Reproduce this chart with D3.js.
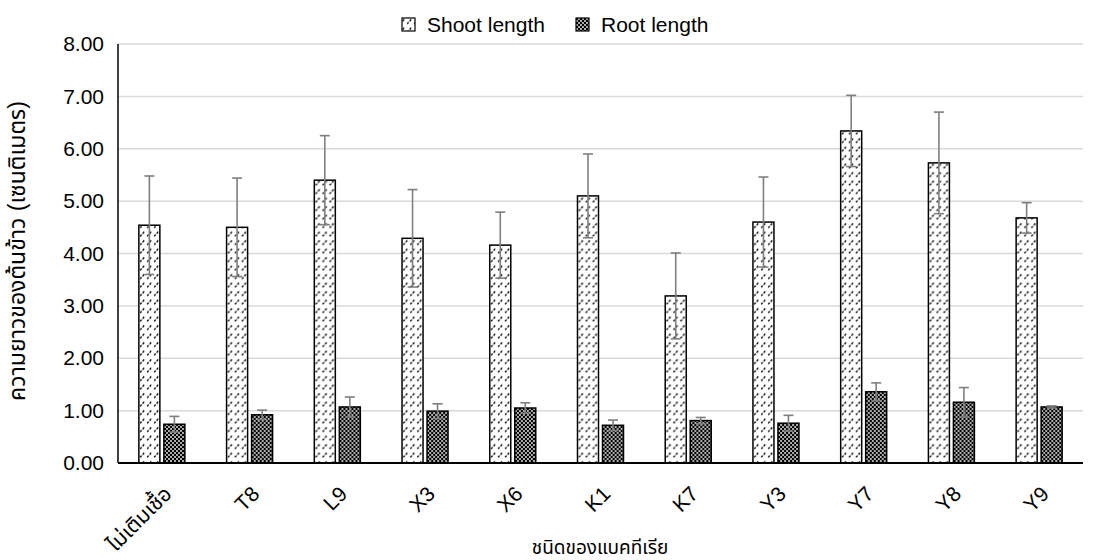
<!DOCTYPE html>
<html>
<head>
<meta charset="utf-8">
<script src="https://cdn.jsdelivr.net/npm/d3@7"></script>
<style>
  html, body { margin: 0; padding: 0; background: #fff; }
  svg { display: block; }
  text { font-family: "Liberation Sans", Arial, "Noto Sans Thai", "Noto Sans", sans-serif; fill: #000; font-weight: normal; }
</style>
</head>
<body>
<svg id="chart" width="1093" height="560"></svg>
<script>
const categories = ["ไม่เติมเชื้อ", "T8", "L9", "X3", "X6", "K1", "K7", "Y3", "Y7", "Y8", "Y9"];
const seriesNames = ["Shoot length", "Root length"];
const shootValues = [4.54, 4.50, 5.40, 4.29, 4.16, 5.10, 3.19, 4.60, 6.34, 5.73, 4.68];
const shootErrors = [0.94, 0.94, 0.85, 0.93, 0.63, 0.80, 0.82, 0.86, 0.68, 0.97, 0.29];
const rootValues = [0.74, 0.92, 1.07, 0.99, 1.05, 0.72, 0.81, 0.76, 1.36, 1.16, 1.07];
const rootErrors = [0.15, 0.09, 0.19, 0.14, 0.10, 0.10, 0.06, 0.15, 0.17, 0.28, 0.02];
const yTickValues = [0, 1, 2, 3, 4, 5, 6, 7, 8];
const xAxisTitle = "ชนิดของแบคทีเรีย";
const yAxisTitle = "ความยาวของต้นข้าว (เซนติเมตร)";

const svg = d3.select("#chart");
const plot = { left: 118, right: 1083, top: 44, bottom: 463 };
const FONT = '"Liberation Sans", Arial, "Noto Sans Thai", "Noto Sans", sans-serif';

// patterns
const defs = svg.append("defs");
const pShoot = defs.append("pattern").attr("id", "pShoot")
  .attr("patternUnits", "userSpaceOnUse").attr("width", 7).attr("height", 8.5);
pShoot.append("rect").attr("width", 7).attr("height", 8.5).attr("fill", "#fff");
pShoot.append("line").attr("x1", 1.2).attr("y1", 6.8).attr("x2", 2.6).attr("y2", 5.2)
  .attr("stroke", "#000").attr("stroke-width", 1.3);
pShoot.append("line").attr("x1", 3.6).attr("y1", 4.2).attr("x2", 5.2).attr("y2", 2.4)
  .attr("stroke", "#000").attr("stroke-width", 1.3);

const pRoot = defs.append("pattern").attr("id", "pRoot")
  .attr("patternUnits", "userSpaceOnUse").attr("width", 4).attr("height", 4);
pRoot.append("rect").attr("width", 4).attr("height", 4).attr("fill", "#000");
pRoot.append("circle").attr("cx", 1).attr("cy", 1).attr("r", 0.9).attr("fill", "#fff");
pRoot.append("circle").attr("cx", 3).attr("cy", 3).attr("r", 0.9).attr("fill", "#fff");

const fills = ["url(#pShoot)", "url(#pRoot)"];

const x0 = d3.scaleBand().domain(categories).range([plot.left, plot.right]).padding(0);
const bw0 = x0.bandwidth();
const x1 = d3.scaleBand().domain(seriesNames)
  .range([bw0 / 2 - 23, bw0 / 2 + 23]).paddingInner(0.16).paddingOuter(0);
const y = d3.scaleLinear().domain([0, 8]).range([plot.bottom, plot.top]);

// gridlines
svg.append("g").selectAll("line").data(yTickValues.filter(d => d > 0)).join("line")
  .attr("x1", plot.left).attr("x2", plot.right)
  .attr("y1", d => y(d)).attr("y2", d => y(d))
  .attr("stroke", "#d9d9d9").attr("stroke-width", 1.5);

// y axis labels
const yAxis = d3.axisLeft(y).tickValues(yTickValues).tickFormat(d3.format(".2f")).tickSize(0).tickPadding(14);
const gy = svg.append("g").attr("transform", `translate(${plot.left},0)`).call(yAxis);
gy.attr("font-family", null).attr("font-size", null);
gy.select(".domain").remove();
gy.selectAll("text").attr("font-size", 21).style("font-family", FONT);

const data = categories.map((c, i) => ({
  cat: c,
  vals: [
    { s: seriesNames[0], v: shootValues[i], e: shootErrors[i], k: 0 },
    { s: seriesNames[1], v: rootValues[i], e: rootErrors[i], k: 1 }
  ]
}));

const groups = svg.append("g").selectAll("g").data(data).join("g")
  .attr("transform", d => `translate(${x0(d.cat)},0)`);

groups.selectAll("rect").data(d => d.vals).join("rect")
  .attr("x", d => x1(d.s))
  .attr("y", d => y(d.v))
  .attr("width", x1.bandwidth())
  .attr("height", d => y(0) - y(d.v))
  .attr("fill", d => fills[d.k])
  .attr("stroke", "#000").attr("stroke-width", 1.5);

// error bars
const eb = groups.selectAll("g.err").data(d => d.vals).join("g").attr("class", "err")
  .attr("stroke", "#7f7f7f").attr("stroke-width", 1.6);
eb.append("line")
  .attr("x1", d => x1(d.s) + x1.bandwidth() / 2).attr("x2", d => x1(d.s) + x1.bandwidth() / 2)
  .attr("y1", d => y(d.v + d.e)).attr("y2", d => y(d.v - d.e));
eb.append("line")
  .attr("x1", d => x1(d.s) + x1.bandwidth() / 2 - 5).attr("x2", d => x1(d.s) + x1.bandwidth() / 2 + 5)
  .attr("y1", d => y(d.v + d.e)).attr("y2", d => y(d.v + d.e));
eb.append("line")
  .attr("x1", d => x1(d.s) + x1.bandwidth() / 2 - 5).attr("x2", d => x1(d.s) + x1.bandwidth() / 2 + 5)
  .attr("y1", d => y(d.v - d.e)).attr("y2", d => y(d.v - d.e));

// axes lines
svg.append("line").attr("x1", plot.left).attr("x2", plot.left)
  .attr("y1", plot.top).attr("y2", plot.bottom).attr("stroke", "#000").attr("stroke-width", 1.5);
svg.append("line").attr("x1", plot.left).attr("x2", plot.right)
  .attr("y1", plot.bottom).attr("y2", plot.bottom).attr("stroke", "#000").attr("stroke-width", 2);

// x labels
const xAxis = d3.axisBottom(x0).tickSize(0).tickPadding(0);
const gx = svg.append("g").attr("transform", `translate(0,${plot.bottom})`).call(xAxis);
gx.attr("font-family", null).attr("font-size", null);
gx.select(".domain").remove();
gx.selectAll("text")
  .attr("font-size", 21)
  .style("font-family", FONT)
  .attr("text-anchor", "end")
  .attr("y", 0).attr("dy", "0.35em")
  .attr("transform", "translate(6,27) rotate(-45)");

// axis titles
svg.append("text").attr("x", 600).attr("y", 554).attr("text-anchor", "middle")
  .attr("font-size", 19).text(xAxisTitle);
svg.append("text").attr("transform", "translate(25,251) rotate(-90)")
  .attr("text-anchor", "middle").attr("font-size", 23).text(yAxisTitle);

// legend
const legend = svg.append("g");
const legItems = [
  { name: seriesNames[0], fill: fills[0], sx: 402, tx: 427 },
  { name: seriesNames[1], fill: fills[1], sx: 576, tx: 601 }
];
legItems.forEach(it => {
  legend.append("rect").attr("x", it.sx).attr("y", 18).attr("width", 13).attr("height", 13)
    .attr("fill", it.fill).attr("stroke", "#000").attr("stroke-width", 1.2);
  legend.append("text").attr("x", it.tx).attr("y", 25).attr("dy", "0.35em")
    .attr("font-size", 21).text(it.name);
});
</script>
</body>
</html>
